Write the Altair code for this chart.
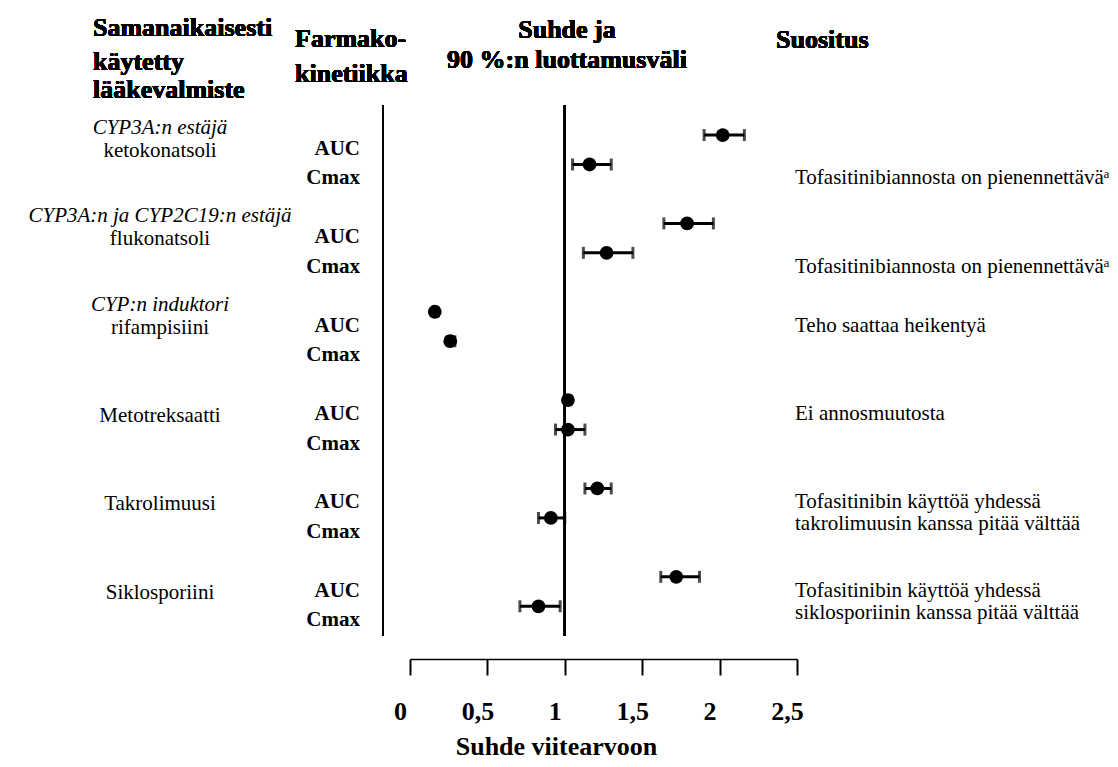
import altair as alt
import pandas as pd

# ---- data ----
drugs = ["ketokonatsoli", "flukonatsoli", "rifampisiini",
         "Metotreksaatti", "Takrolimuusi", "Siklosporiini"]
drug_class = ["CYP3A:n estäjä", "CYP3A:n ja CYP2C19:n estäjä", "CYP:n induktori",
              "", "", ""]
params = ["AUC", "Cmax"]

auc_ratio = [2.02, 1.79, 0.16, 1.02, 1.21, 1.72]
auc_lo    = [1.90, 1.64, 0.15, 1.00, 1.13, 1.62]
auc_hi    = [2.16, 1.96, 0.18, 1.04, 1.30, 1.87]
cmax_ratio = [1.16, 1.27, 0.26, 1.02, 0.91, 0.83]
cmax_lo    = [1.05, 1.12, 0.24, 0.94, 0.83, 0.71]
cmax_hi    = [1.30, 1.44, 0.29, 1.13, 1.00, 0.97]

recommendations = [
    "Tofasitinibiannosta on pienennettäväᵃ",
    "Tofasitinibiannosta on pienennettäväᵃ",
    "Teho saattaa heikentyä",
    "Ei annosmuutosta",
    "Tofasitinibin käyttöä yhdessä\ntakrolimuusin kanssa pitää välttää",
    "Tofasitinibin käyttöä yhdessä\nsiklosporiinin kanssa pitää välttää",
]
rec_param = ["Cmax", "Cmax", "AUC", "AUC", "AUC", "AUC"]

x_ticks = [0, 0.25, 0.5, 0.75, 1, 1.25, 1.5, 1.75, 2, 2.25, 2.5]

# ---- tables built from the arrays ----
rows = []
for g, d in enumerate(drugs):
    for p, name in enumerate(params):
        if name == "AUC":
            r, lo, hi = auc_ratio[g], auc_lo[g], auc_hi[g]
        else:
            r, lo, hi = cmax_ratio[g], cmax_lo[g], cmax_hi[g]
        rows.append({"drug": d, "param": name, "g": g, "p": p,
                     "ratio": r, "lo": lo, "hi": hi})
pk = pd.DataFrame(rows)

drug_df = pd.DataFrame({"drug": drugs, "cls": drug_class,
                        "g": list(range(len(drugs)))})
rec_df = pd.DataFrame({"rec": recommendations, "param": rec_param,
                       "g": list(range(len(drugs)))})
rec_df["p"] = rec_df["param"].map({"AUC": 0, "Cmax": 1})

FONT = "Liberation Serif"

xscale = alt.Scale(domain=[0, 2.5], nice=False, zero=False)
yscale = alt.Scale(domain=[-1.02, 17.79], reverse=True, nice=False, zero=False)

xaxis = alt.Axis(
    values=x_ticks,
    labelExpr="datum.value % 0.5 == 0 ? replace(format(datum.value, '~g'), '.', ',') : ''",
    grid=False, domainColor="black", domainWidth=1.5,
    tickColor="black", tickWidth=2, tickSize=16,
    labelFont=FONT, labelFontSize=26, labelFontWeight="bold", labelColor="black",
    labelPadding=23, labelOffset=-10, labelFlush=False, labelOverlap=False, labelBound=False,
    title="Suhde viitearvoon", titleFont=FONT, titleFontSize=26, titleFontWeight="bold",
    titleColor="black", titleX=146, titleY=95, titleAlign="center",
    titleBaseline="alphabetic", titleAngle=0,
)

base = alt.Chart(pk).transform_calculate(slot="3 * datum.g + datum.p")

ci = base.mark_rule(color="black", strokeWidth=3).encode(
    x=alt.X("lo:Q", scale=xscale, axis=xaxis),
    x2="hi:Q",
    y=alt.Y("slot:Q", scale=yscale, axis=None),
)
cap_lo = base.mark_tick(color="black", orient="vertical", size=12, thickness=3).encode(
    x=alt.X("lo:Q", scale=xscale), y=alt.Y("slot:Q", scale=yscale))
cap_hi = base.mark_tick(color="black", orient="vertical", size=12, thickness=3).encode(
    x=alt.X("hi:Q", scale=xscale), y=alt.Y("slot:Q", scale=yscale))
dots = base.mark_circle(color="black", size=190, opacity=1).encode(
    x=alt.X("ratio:Q", scale=xscale), y=alt.Y("slot:Q", scale=yscale))

param_labels = base.mark_text(font=FONT, fontSize=21, fontWeight="bold", align="right",
                              baseline="alphabetic", dy=20, color="black").encode(
    x=alt.value(-50), y=alt.Y("slot:Q", scale=yscale), text="param:N")

dbase = alt.Chart(drug_df).transform_calculate(slot="3 * datum.g")
cls_text = dbase.mark_text(font=FONT, fontSize=21, fontStyle="italic", align="center",
                           baseline="alphabetic", dy=-1, color="black").encode(
    x=alt.value(-250), y=alt.Y("slot:Q", scale=yscale), text="cls:N")
drug_text = dbase.mark_text(font=FONT, fontSize=21, align="center",
                            baseline="alphabetic", dy=22, color="black").encode(
    x=alt.value(-250), y=alt.Y("slot:Q", scale=yscale), text="drug:N")

rec_text = alt.Chart(rec_df).transform_calculate(slot="3 * datum.g + datum.p").mark_text(
    font=FONT, fontSize=21, align="left", baseline="alphabetic", dy=20,
    lineBreak="\n", lineHeight=22, color="black").encode(
    x=alt.value(385), y=alt.Y("slot:Q", scale=yscale), text="rec:N")

ref_line = alt.Chart(pk).mark_rule(color="black", strokeWidth=2).encode(
    x=alt.datum(1, scale=xscale), y=alt.value(0), y2=alt.value(531))
left_line = alt.Chart(pk).mark_rule(color="black", strokeWidth=2).encode(
    x=alt.value(-27), y=alt.value(0), y2=alt.value(531))


def header(txt, x, y, align):
    return alt.Chart(pk).mark_text(text=txt, font=FONT, fontSize=26, fontWeight="bold",
                                   align=align, baseline="alphabetic",
                                   color="black").encode(x=alt.value(x), y=alt.value(y))


headers = [
    header("Samanaikaisesti", -317, -69, "left"),
    header("käytetty", -317, -35, "left"),
    header("lääkevalmiste", -317, -7, "left"),
    header("Farmako-", -115, -58, "left"),
    header("kinetiikka", -115, -23, "left"),
    header("Suhde ja", 157, -67, "center"),
    header("90 %:n luottamusväli", 157, -37, "center"),
    header("Suositus", 366, -57, "left"),
]

chart = alt.layer(
    left_line, ref_line, ci, cap_lo, cap_hi, dots,
    param_labels, cls_text, drug_text, rec_text, *headers
).properties(
    width=387, height=554,
    padding={"left": 402, "top": 97, "right": 313, "bottom": 100},
    autosize=alt.AutoSizeParams(type="none"),
).configure_view(stroke=None)

chart.save("out.html", embed_options={"renderer": "svg", "actions": False})
